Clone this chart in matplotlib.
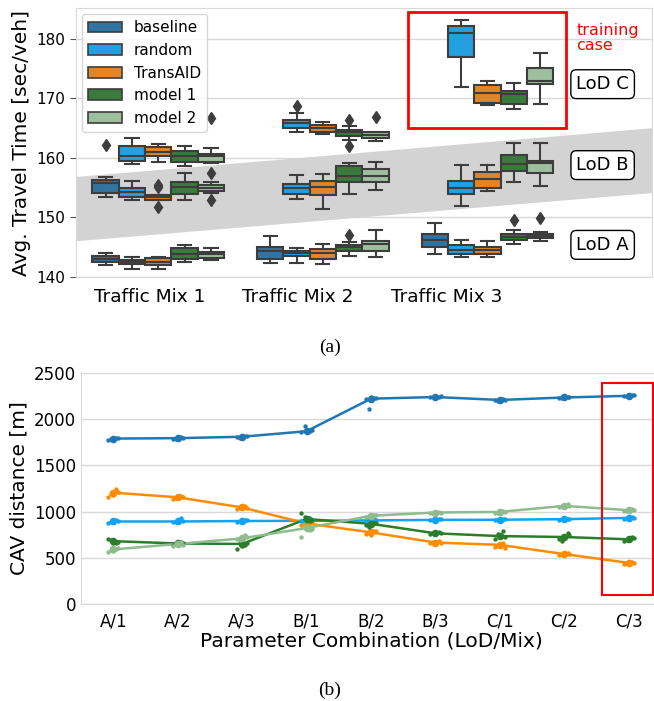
import matplotlib
matplotlib.use("Agg")
import matplotlib.pyplot as plt
from matplotlib.patches import Patch, Rectangle, Polygon
import numpy as np

# ---------------- (a) travel time boxplots ----------------
MIXES = ["Traffic Mix 1", "Traffic Mix 2", "Traffic Mix 3"]
METHODS = ["baseline", "random", "TransAID", "model 1", "model 2"]
LODS = ["LoD A", "LoD B", "LoD C"]
LOD_LABEL_Y = [145.4, 158.8, 172.4]

# (mix index, whislo, q1, median, q3, whishi, fliers)
STATS_BASELINE = [
    (0, 142.1, 142.6, 143.1, 143.5, 144.0, []),
    (0, 153.4, 154.1, 155.8, 156.3, 156.8, [162.1]),
    (1, 142.4, 143.1, 144.4, 145.0, 146.9, []),
    (2, 143.9, 145.1, 146.2, 147.3, 149.1, []),
]
STATS_RANDOM = [
    (0, 141.4, 142.2, 142.6, 142.9, 143.4, []),
    (0, 152.9, 153.4, 154.3, 155.0, 156.2, []),
    (0, 159.0, 159.5, 160.4, 162.0, 163.4, []),
    (1, 142.4, 143.5, 144.0, 144.4, 144.8, []),
    (1, 153.1, 153.9, 155.0, 155.7, 157.1, []),
    (1, 164.3, 165.0, 165.8, 166.4, 167.5, [168.7]),
    (2, 143.4, 143.9, 144.6, 145.4, 146.3, []),
    (2, 151.9, 154.0, 155.0, 156.1, 158.9, []),
    (2, 172.0, 177.0, 181.0, 182.1, 183.1, []),
]
STATS_TRANSAID = [
    (0, 141.4, 142.1, 142.6, 143.2, 143.4, []),
    (0, 152.9, 152.9, 153.4, 153.7, 153.8, [155.5, 155.1, 151.8]),
    (0, 159.4, 160.3, 161.0, 161.8, 162.3, []),
    (1, 142.2, 143.1, 144.0, 144.7, 145.5, []),
    (1, 151.5, 153.8, 155.2, 156.2, 157.3, []),
    (1, 164.0, 164.4, 165.1, 165.5, 166.1, []),
    (2, 143.4, 143.9, 144.5, 145.1, 146.1, []),
    (2, 154.5, 155.0, 156.5, 157.6, 158.9, []),
    (2, 168.9, 169.2, 170.9, 172.2, 173.0, []),
]
STATS_MODEL1 = [
    (0, 142.5, 143.1, 143.9, 144.8, 145.3, []),
    (0, 153.0, 154.0, 155.1, 156.0, 157.4, []),
    (0, 158.7, 159.4, 160.3, 161.2, 162.0, []),
    (1, 143.6, 144.3, 145.0, 145.4, 145.9, [147.1]),
    (1, 153.9, 155.9, 156.9, 158.7, 159.2, []),
    (1, 163.1, 163.7, 164.4, 164.7, 165.3, [166.4, 162.0]),
    (2, 145.5, 146.2, 146.8, 147.2, 147.9, [149.5]),
    (2, 156.0, 157.8, 159.0, 160.5, 162.6, []),
    (2, 168.2, 169.1, 170.8, 171.3, 172.6, []),
]
STATS_MODEL2 = [
    (0, 142.8, 143.2, 143.8, 144.2, 144.8, []),
    (0, 154.1, 154.5, 155.0, 155.4, 155.9, [157.4, 152.9]),
    (0, 159.2, 159.4, 160.4, 160.6, 161.7, [166.8]),
    (1, 143.4, 144.4, 145.5, 146.1, 147.9, []),
    (1, 154.6, 155.9, 156.9, 158.1, 159.4, []),
    (1, 162.9, 163.3, 163.9, 164.3, 164.3, [166.9]),
    (2, 146.1, 146.5, 146.9, 147.3, 147.6, [149.9]),
    (2, 155.3, 157.5, 159.1, 159.5, 162.5, []),
    (2, 169.1, 172.4, 173.0, 175.1, 177.6, []),
]
ALL_STATS = [STATS_BASELINE, STATS_RANDOM, STATS_TRANSAID, STATS_MODEL1, STATS_MODEL2]

BOX_COLORS = ["#3274a1", "#22a0e0", "#e1852a", "#3a7a3a", "#9dbf9d"]
LINE_COLORS = ["#1f77b4", "#12a3f2", "#ff8c00", "#2a7d2a", "#8fbc8f"]

# ---------------- (b) CAV distance ----------------
COMBOS = ["A/1", "A/2", "A/3", "B/1", "B/2", "B/3", "C/1", "C/2", "C/3"]
DIST_BASELINE = [1790, 1795, 1810, 1870, 2222, 2240, 2208, 2235, 2253]
DIST_RANDOM = [893, 893, 898, 900, 905, 910, 912, 918, 932]
DIST_TRANSAID = [1205, 1155, 1045, 872, 775, 665, 640, 540, 445]
DIST_MODEL1 = [680, 655, 650, 920, 868, 765, 735, 725, 700]
DIST_MODEL2 = [590, 650, 710, 822, 955, 990, 997, 1062, 1015]

PTS_BASELINE = [[1780, 1795, 1788, 1800, 1785], [1790, 1805, 1785, 1798, 1800],
                [1805, 1820, 1800, 1815, 1812], [1860, 1875, 1930, 1880, 1865],
                [2215, 2230, 2110, 2225, 2240], [2235, 2245, 2240, 2250, 2238],
                [2205, 2215, 2200, 2212, 2208], [2230, 2240, 2228, 2238, 2235],
                [2250, 2260, 2248, 2258, 2255]]
PTS_RANDOM = [[880, 905, 890, 900, 885], [885, 930, 890, 900, 895],
              [890, 910, 895, 905, 900], [895, 935, 900, 905, 898],
              [900, 915, 905, 910, 895], [905, 915, 910, 920, 900],
              [905, 925, 910, 915, 900], [910, 925, 915, 920, 912],
              [925, 940, 930, 935, 928]]
PTS_TRANSAID = [[1160, 1240, 1190, 1215, 1180], [1140, 1165, 1150, 1160, 1145],
                [1030, 1060, 1050, 1040, 1055], [850, 880, 860, 890, 870],
                [760, 790, 770, 785, 750], [655, 680, 670, 660, 675],
                [620, 655, 640, 610, 650], [530, 550, 540, 545, 535],
                [435, 450, 445, 440, 455]]
PTS_MODEL1 = [[700, 665, 690, 675, 660], [640, 670, 650, 660, 655],
              [600, 640, 660, 655, 630], [980, 900, 940, 910, 930],
              [850, 880, 830, 875, 865], [760, 775, 755, 770, 765],
              [700, 790, 760, 720, 740], [700, 770, 680, 750, 730],
              [680, 720, 690, 710, 700]]
PTS_MODEL2 = [[560, 600, 580, 610, 575], [630, 670, 650, 640, 660],
              [700, 750, 690, 720, 710], [720, 800, 840, 810, 830],
              [940, 960, 950, 965, 955], [980, 1000, 990, 985, 995],
              [990, 1010, 985, 1000, 995], [1050, 1080, 1060, 1065, 1055],
              [1010, 1025, 1005, 1020, 1015]]

plt.rcParams['font.family'] = ['DejaVu Sans']
fig = plt.figure(figsize=(6.54, 7.01), dpi=100, facecolor='white')

# ===== (a) =====
ax = fig.add_axes([76 / 654, 1 - 277 / 701, 576 / 654, 269 / 701])
ax.set_xlim(-0.5, 3.0)
ax.set_ylim(140, 185.2)
ax.yaxis.grid(True, color='#d9d9d9', linewidth=1, zorder=0)
ax.set_axisbelow(True)
for s in ax.spines.values():
    s.set_color('#d9d9d9')

# gray band marking LoD B
band = Polygon([(-0.5, 146.0), (3.0, 154.1), (3.0, 165.0), (-0.5, 156.8)],
               closed=True, facecolor='#d3d3d3', edgecolor='none', zorder=1)
ax.add_patch(band)

width = 0.16
for h, stats in enumerate(ALL_STATS):
    offset = (h - 2) * width
    bxps = []
    pos = []
    for mix, lo, q1, med, q3, hi, fl in stats:
        bxps.append(dict(whislo=lo, q1=q1, med=med, q3=q3, whishi=hi, fliers=fl))
        pos.append(mix + offset)
    ax.bxp(bxps, positions=pos, widths=width, capwidths=width / 2, patch_artist=True,
           boxprops=dict(facecolor=BOX_COLORS[h], edgecolor='#3d3d3d', linewidth=1.5),
           medianprops=dict(color='#3d3d3d', linewidth=1.5),
           whiskerprops=dict(color='#3d3d3d', linewidth=1.5),
           capprops=dict(color='#3d3d3d', linewidth=1.5),
           flierprops=dict(marker='d', markerfacecolor='#3d3d3d', markeredgecolor='#3d3d3d',
                           markersize=6),
           manage_ticks=False, zorder=3)

ax.add_patch(Rectangle((1.52, 165.0), 0.96, 19.5, fill=False, edgecolor='red',
                       linewidth=2, zorder=5))
ax.text(2.54, 182.7, "training\ncase", color='red', fontsize=11.5, va='top', ha='left',
        linespacing=1.0)
for lab, y in zip(LODS, LOD_LABEL_Y):
    ax.text(2.70, y, lab, fontsize=13, ha='center', va='center', zorder=6,
            bbox=dict(boxstyle='round,pad=0.3', facecolor='white', edgecolor='black',
                      linewidth=1))

ax.set_xticks([-0.05, 0.85, 1.75])
ax.set_xticklabels(MIXES, fontsize=13.3)
ax.set_yticks([140, 150, 160, 170, 180])
ax.tick_params(axis='y', labelsize=11, length=4, color='#555555')
ax.tick_params(axis='x', length=0, pad=8)
ax.set_ylabel("Avg. Travel Time [sec/veh]", fontsize=14.5, labelpad=4)

handles = [Patch(facecolor=c, edgecolor='#3d3d3d', linewidth=1.2) for c in BOX_COLORS]
ax.legend(handles, METHODS, loc='upper left', fontsize=11, frameon=True,
          edgecolor='#cccccc', handlelength=2.2, borderaxespad=0.4)

fig.text(330 / 654, 1 - 347 / 701, "(a)", fontsize=14, family='Liberation Serif',
         ha='center', va='center')

# ===== (b) =====
bx = fig.add_axes([81 / 654, 1 - 604 / 701, 580 / 654, 231 / 701])
bx.set_xlim(-0.5, 8.5)
bx.set_ylim(0, 2500)
bx.yaxis.grid(True, color='#d9d9d9', linewidth=1)
bx.set_axisbelow(True)
for s in bx.spines.values():
    s.set_color('#d9d9d9')

x = np.arange(len(COMBOS))
jitter = np.array([-0.08, 0.05, -0.03, 0.08, 0.0])
means = [DIST_BASELINE, DIST_RANDOM, DIST_TRANSAID, DIST_MODEL1, DIST_MODEL2]
points = [PTS_BASELINE, PTS_RANDOM, PTS_TRANSAID, PTS_MODEL1, PTS_MODEL2]
for h in range(len(METHODS)):
    bx.plot(x, means[h], color=LINE_COLORS[h], linewidth=1.8, zorder=3)
    for i in range(len(COMBOS)):
        bx.scatter(i + jitter, points[h][i], s=10, color=LINE_COLORS[h], zorder=4,
                   linewidths=0)
    bx.scatter(x, means[h], s=30, color=LINE_COLORS[h], zorder=4, linewidths=0)

bx.add_patch(Rectangle((7.59, 100), 0.79, 2295, fill=False, edgecolor='red',
                       linewidth=1.5, zorder=5, clip_on=False))
bx.set_xticks(x)
bx.set_xticklabels(COMBOS, fontsize=12)
bx.set_yticks([0, 500, 1000, 1500, 2000, 2500])
bx.tick_params(axis='y', labelsize=12, length=0)
bx.tick_params(axis='x', length=0, pad=6)
bx.set_ylabel("CAV distance [m]", fontsize=14.5)
bx.set_xlabel("Parameter Combination (LoD/Mix)", fontsize=14.5, labelpad=1)

fig.text(330 / 654, 1 - 690 / 701, "(b)", fontsize=14, family='Liberation Serif',
         ha='center', va='center')

fig.savefig("out.png", dpi=100, facecolor='white')
